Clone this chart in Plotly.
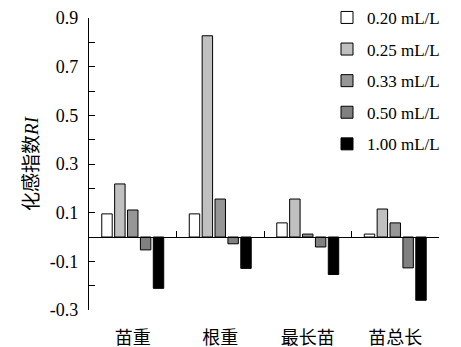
import plotly.graph_objects as go

categories = ["苗重", "根重", "最长苗", "苗总长"]
series_names = ["0.20 mL/L", "0.25 mL/L", "0.33 mL/L", "0.50 mL/L", "1.00 mL/L"]
v_020 = [0.095, 0.095, 0.058, 0.012]
v_025 = [0.218, 0.827, 0.156, 0.115]
v_033 = [0.111, 0.156, 0.012, 0.058]
v_050 = [-0.053, -0.028, -0.041, -0.127]
v_100 = [-0.211, -0.129, -0.154, -0.260]
series_values = [v_020, v_025, v_033, v_050, v_100]
colors = ["#FFFFFF", "#C0C0C0", "#969696", "#808080", "#000000"]

y_ticks = [-0.3, -0.1, 0.1, 0.3, 0.5, 0.7, 0.9]
y_ticktext = ["-0.3", "-0.1", "0.1", "0.3", "0.5", "0.7", "0.9"]
boundaries = [-0.5, 0.5, 1.5, 2.5, 3.5]

FONT = "Liberation Serif, Times New Roman, Noto Sans CJK SC, serif"

fig = go.Figure()
for name, vals, c in zip(series_names, series_values, colors):
    fig.add_trace(go.Bar(
        x=categories, y=vals, name=name,
        marker=dict(color=c, line=dict(color="black", width=1)),
        legendgroup=name,
    ))

# invisible trace to drive the zero-line axis with boundary ticks
fig.add_trace(go.Scatter(x=[boundaries[0], boundaries[-1]], y=[0, 0], xaxis="x2",
                         mode="lines", line=dict(color="rgba(0,0,0,0)"),
                         showlegend=False, hoverinfo="skip"))

fig.update_layout(
    width=461, height=347,
    margin=dict(l=89, r=22, t=18, b=37, autoexpand=False),
    plot_bgcolor="white", paper_bgcolor="white",
    font=dict(family=FONT, size=17, color="black"),
    barmode="group", bargap=0.264, bargroupgap=0.19,
    showlegend=True,
    legend=dict(x=0.68, y=1.062, xanchor="left", yanchor="top",
                font=dict(family=FONT, size=17),
                bgcolor="rgba(0,0,0,0)", traceorder="grouped",
                tracegroupgap=6.5, itemwidth=30),
    xaxis=dict(type="category", range=[-0.5, 3.5], showline=False, ticks="",
               showgrid=False, zeroline=False,
               tickfont=dict(family=FONT, size=18), ticklabelstandoff=15),
    xaxis2=dict(overlaying="x", anchor="free", position=0.25, range=[-0.5, 3.5],
                showline=True, linecolor="black", linewidth=1.3,
                tickmode="array", tickvals=boundaries, ticks="inside",
                ticklen=6, tickcolor="black", tickwidth=1.3,
                showticklabels=False, showgrid=False, zeroline=False),
    yaxis=dict(range=[-0.3, 0.9], showline=True, linecolor="black", linewidth=1.3,
               tickmode="array", tickvals=y_ticks, ticktext=y_ticktext,
               ticks="inside", ticklen=6, tickcolor="black", tickwidth=1.3,
               minor=dict(tickmode="array", tickvals=[-0.2, 0.2, 0.4, 0.6, 0.8],
                          ticks="inside", ticklen=6, tickcolor="black", tickwidth=1.3),
               showgrid=False, zeroline=False, ticklabelstandoff=6,
               tickfont=dict(family=FONT, size=18),
               title=dict(text="化感指数<i>RI</i>", font=dict(family=FONT, size=19),
                          standoff=6)),
)

fig.write_html("out.html")
